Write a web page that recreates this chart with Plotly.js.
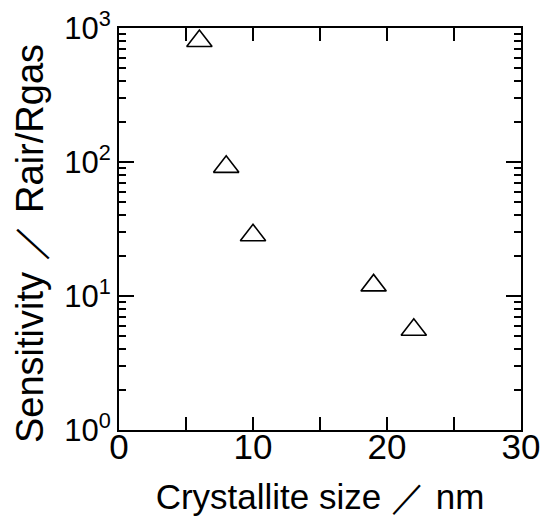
<!DOCTYPE html>
<html>
<head>
<meta charset="utf-8">
<script src="https://cdn.plot.ly/plotly-3.0.1.min.js"></script>
<style>html,body{margin:0;padding:0;background:#fff;}#chart{width:543px;height:517px;}</style>
</head>
<body>
<div id="chart"></div>
<script>
var crystalliteSize = [6, 8, 10, 19, 22];
var sensitivity = [800, 92, 28.4, 12.0, 5.6];
var xTickVals = [0, 10, 20, 30];
var xTickText = ['0', '10', '20', '30'];
var yTickVals = [1, 10, 100, 1000];
var yTickText = ['10<sup>0</sup>', '10<sup>1</sup>', '10<sup>2</sup>', '10<sup>3</sup>'];
var xTitle = 'Crystallite size ／ nm';
var yTitle = 'Sensitivity ／ Rair/Rgas';

var font = 'Liberation Sans, Arial, Helvetica, sans-serif';

var trace = {
  x: crystalliteSize,
  y: sensitivity,
  type: 'scatter',
  mode: 'markers',
  marker: {symbol: 'triangle-up-open', size: 22, color: 'black', line: {width: 1.6, color: 'black'}},
  showlegend: false
};

var layout = {
  width: 543, height: 517,
  margin: {l: 119, r: 22, t: 28, b: 87},
  paper_bgcolor: 'white', plot_bgcolor: 'white',
  font: {family: font, color: 'black'},
  xaxis: {
    range: [0, 30],
    tickmode: 'array', tickvals: xTickVals, ticktext: xTickText,
    ticks: 'inside', ticklen: 13, tickwidth: 2, tickcolor: 'black',
    minor: {ticks: 'inside', ticklen: 13, tickwidth: 2, tickcolor: 'black', tick0: 0, dtick: 5, showgrid: false},
    ticklabelstandoff: -15,
    showline: true, linewidth: 2, linecolor: 'black', mirror: 'ticks',
    showgrid: false, zeroline: false,
    tickfont: {size: 35, family: font, color: 'black'},
    title: {text: xTitle, font: {size: 35, family: font, color: 'black'}, standoff: 19},
    automargin: false
  },
  yaxis: {
    type: 'log', range: [0, 3],
    tickmode: 'array', tickvals: yTickVals, ticktext: yTickText,
    ticks: 'inside', ticklen: 15, tickwidth: 2, tickcolor: 'black',
    minor: {ticks: 'inside', ticklen: 7, tickwidth: 2, tickcolor: 'black', dtick: 'D1', showgrid: false},
    showline: true, linewidth: 2, linecolor: 'black', mirror: 'ticks',
    showgrid: false, zeroline: false,
    tickfont: {size: 31, family: font, color: 'black'},
    automargin: false
  },
  annotations: [{
    text: yTitle, xref: 'paper', yref: 'paper',
    x: -0.2214, y: 0.465, xanchor: 'center', yanchor: 'middle',
    textangle: -90, showarrow: false,
    font: {size: 38, family: font, color: 'black'}
  }]
};

Plotly.newPlot('chart', [trace], layout, {displayModeBar: false});
</script>
</body>
</html>
